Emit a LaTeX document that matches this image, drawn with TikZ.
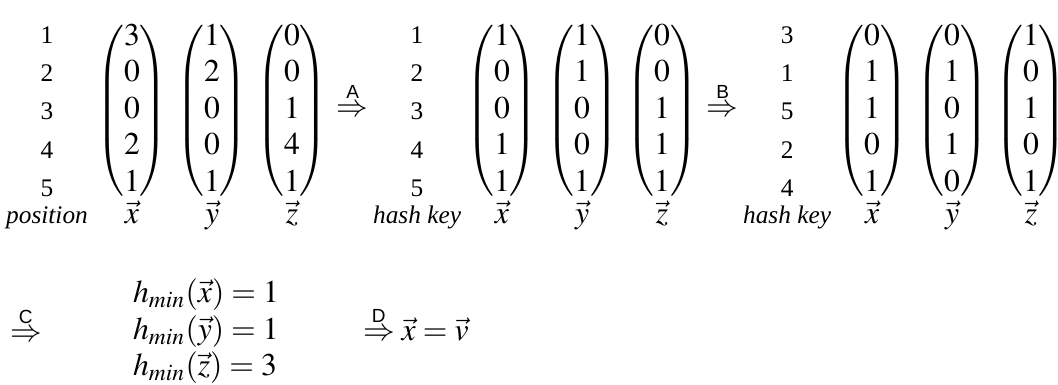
\documentclass[tikz,border=0pt]{standalone}
\usepackage{amsmath}
\usepackage{mathptmx}
\DeclareSymbolFont{largesymbols}{OMX}{cmex}{m}{n}
\usepackage[no-math]{fontspec}
\setmainfont{Liberation Serif}
\setsansfont{Liberation Sans}
\usetikzlibrary{positioning}

\newcommand{\stepto}[1]{\overset{\text{\sffamily\fontsize{6}{6}\selectfont #1}}{\Rightarrow}}
\delimiterfactor=880
\delimitershortfall=12pt
\renewcommand{\arraystretch}{0.96}

\begin{document}
\begin{tikzpicture}[
  every node/.style={inner sep=0pt, outer sep=0pt},
  key/.style={font=\footnotesize, anchor=base},
  keyname/.style={font=\footnotesize\itshape, anchor=base},
  colv/.style={anchor=center},
  vlab/.style={anchor=base},
  stepper/.style={anchor=base west},
]
\useasboundingbox (0,0) rectangle (11.74,-4.272);

% raw counts
\foreach \k [count=\i] in {1,2,3,4,5}
  \node[key] (p\i) at (0.522,{-0.477-(\i-1)*0.427}) {\k};
\node[keyname] (pos) at (0.522,-2.48) {position};
\node[colv] (xa) at (1.465,-1.232) {$\begin{pmatrix}3\\0\\0\\2\\1\end{pmatrix}$};
\node[colv] (ya) at (2.353,-1.232) {$\begin{pmatrix}1\\2\\0\\0\\1\end{pmatrix}$};
\node[colv] (za) at (3.241,-1.232) {$\begin{pmatrix}0\\0\\1\\4\\1\end{pmatrix}$};
\node[vlab] (xla) at (1.465,-2.48) {$\vec{x}$};
\node[vlab] (yla) at (2.353,-2.48) {$\vec{y}$};
\node[vlab] (zla) at (3.241,-2.48) {$\vec{z}$};

\node[stepper] (sa) at (3.739,-1.288) {$\stepto{A}$};

% binary, hash keys
\foreach \k [count=\i] in {1,2,3,4,5}
  \node[key] (h\i) at (4.628,{-0.477-(\i-1)*0.427}) {\k};
\node[keyname] (hk) at (4.628,-2.48) {hash key};
\node[colv] (xb) at (5.571,-1.232) {$\begin{pmatrix}1\\0\\0\\1\\1\end{pmatrix}$};
\node[colv] (yb) at (6.459,-1.232) {$\begin{pmatrix}1\\1\\0\\0\\1\end{pmatrix}$};
\node[colv] (zb) at (7.347,-1.232) {$\begin{pmatrix}0\\0\\1\\1\\1\end{pmatrix}$};
\node[vlab] (xlb) at (5.571,-2.48) {$\vec{x}$};
\node[vlab] (ylb) at (6.459,-2.48) {$\vec{y}$};
\node[vlab] (zlb) at (7.347,-2.48) {$\vec{z}$};

\node[stepper] (sb) at (7.845,-1.288) {$\stepto{B}$};

% permuted rows
\foreach \k [count=\i] in {3,1,5,2,4}
  \node[key] (r\i) at (8.734,{-0.477-(\i-1)*0.427}) {\k};
\node[keyname] (hk2) at (8.734,-2.48) {hash key};
\node[colv] (xc) at (9.677,-1.232) {$\begin{pmatrix}0\\1\\1\\0\\1\end{pmatrix}$};
\node[colv] (yc) at (10.565,-1.232) {$\begin{pmatrix}0\\1\\0\\1\\0\end{pmatrix}$};
\node[colv] (zc) at (11.44,-1.232) {$\begin{pmatrix}1\\0\\1\\0\\1\end{pmatrix}$};
\node[vlab] (xlc) at (9.677,-2.48) {$\vec{x}$};
\node[vlab] (ylc) at (10.565,-2.48) {$\vec{y}$};
\node[vlab] (zlc) at (11.44,-2.48) {$\vec{z}$};

% min hashes
\node[stepper] (sc) at (0.111,-3.784) {$\stepto{C}$};
\node[anchor=west] (mins) at (1.476,-3.684)
  {$\begin{array}{@{}l@{}}
    h_{min}(\vec{x})=1\\
    h_{min}(\vec{y})=1\\
    h_{min}(\vec{z})=3
  \end{array}$};
\node[stepper] (sd) at (4.028,-3.773) {$\stepto{D}\vec{x}=\vec{v}$};
\end{tikzpicture}
\end{document}
